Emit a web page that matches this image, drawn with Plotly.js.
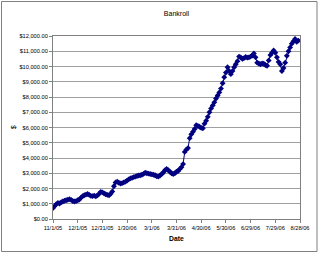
<!DOCTYPE html>
<html>
<head>
<meta charset="utf-8">
<script src="https://cdn.plot.ly/plotly-3.0.1.min.js"></script>
<style>html,body{margin:0;padding:0;background:#fff;}#chart{width:320px;height:253px;}</style>
</head>
<body>
<div id="chart"></div>
<script>
// Bankroll values, one every 2 days starting 11/1/05
const startDate = "2005-11-01";
const stepDays = 2;
const bankroll = [
  720, 850, 980, 1050, 1020, 1100, 1150, 1200, 1230, 1260,
  1300, 1250, 1180, 1150, 1170, 1230, 1280, 1400, 1500, 1560,
  1600, 1640, 1580, 1520, 1500, 1530, 1480, 1550, 1650, 1780,
  1750, 1680, 1620, 1580, 1560, 1650, 1800, 2150, 2400, 2440,
  2380, 2330, 2350, 2400, 2450, 2520, 2600, 2660, 2700, 2750,
  2780, 2820, 2850, 2870, 2900, 2960, 3030, 3000, 2980, 2950,
  2930, 2900, 2870, 2800, 2780, 2850, 2950, 3050, 3200, 3280,
  3200, 3100, 3000, 2950, 3000, 3100, 3150, 3280, 3400, 3600,
  4400, 4550, 4650, 5300, 5550, 5720, 5900, 6150, 6100, 6050,
  5980, 5950, 6250, 6450, 6700, 7000, 7250, 7450, 7650, 7900,
  8100, 8300, 8550, 8900, 9300, 9600, 9950, 9700, 9500, 9700,
  9950, 10150, 10350, 10650, 10600, 10500, 10550, 10620, 10580, 10600,
  10650, 10720, 10850, 10600, 10250, 10200, 10150, 10200, 10180, 10100,
  10050, 10400, 10750, 10900, 11050, 10900, 10600, 10300, 10150, 9700,
  9900, 10250, 10700, 11000, 11250, 11500, 11650, 11800, 11620, 11700
];
const tickDates = ["2005-11-01","2005-12-01","2005-12-31","2006-01-30","2006-03-01","2006-03-31","2006-04-30","2006-05-30","2006-06-29","2006-07-29","2006-08-28"];
const tickLabels = ["11/1/05","12/1/05","12/31/05","1/30/06","3/1/06","3/31/06","4/30/06","5/30/06","6/29/06","7/29/06","8/28/06"];

function addDays(s, n) {
  const d = new Date(s + "T00:00:00Z");
  d.setUTCDate(d.getUTCDate() + n);
  return d.toISOString().slice(0, 10);
}
const dates = bankroll.map((v, i) => addDays(startDate, i * stepDays));

const font = "Arial, 'Liberation Sans', sans-serif";
const L = 53, R = 20, T = 36, B = 34, W = 320, H = 253;
const pw = W - L - R, ph = H - T - B;

const trace = {
  x: dates, y: bankroll, type: "scatter", mode: "lines+markers",
  line: {color: "#000080", width: 1},
  marker: {symbol: "diamond", size: 4.5, color: "#000080"},
  hoverinfo: "skip"
};

const layout = {
  width: W, height: H,
  margin: {l: L, r: R, t: T, b: B, pad: 0},
  paper_bgcolor: "#fff", plot_bgcolor: "#fff",
  showlegend: false,
  font: {family: font, size: 6, color: "#000"},
  title: {text: "Bankroll", font: {family: font, size: 7, color: "#000"}, x: 0.5, xref: "paper", xanchor: "center", y: 1 - 14 / H, yref: "container", yanchor: "middle"},
  xaxis: {
    type: "date", range: [startDate, "2006-08-28"],
    tickvals: tickDates, ticktext: tickLabels,
    ticks: "outside", ticklen: 3, tickcolor: "#808080",
    showgrid: false, zeroline: false,
    showline: true, linecolor: "#808080", linewidth: 1, mirror: true,
    tickfont: {family: font, size: 5.7, color: "#000"}
  },
  yaxis: {
    range: [0, 12000], dtick: 1000, tick0: 0,
    tickformat: "$,.2f",
    ticks: "outside", ticklen: 3, tickcolor: "#808080",
    showgrid: true, gridcolor: "#a0a0a0", gridwidth: 1,
    zeroline: false,
    showline: true, linecolor: "#808080", linewidth: 1, mirror: true,
    tickfont: {family: font, size: 5.7, color: "#000"}
  },
  annotations: [
    {text: "<b>Date</b>", xref: "paper", yref: "paper", x: 0.5, y: -(238.3 - (H - B)) / ph,
     xanchor: "center", yanchor: "middle", showarrow: false, font: {family: font, size: 6.8, color: "#000"}},
    {text: "$", xref: "paper", yref: "paper", x: (13.5 - L) / pw, y: (H - B - 127.7) / ph, textangle: -90,
     xanchor: "center", yanchor: "middle", showarrow: false, font: {family: font, size: 7, color: "#000"}}
  ],
  shapes: [{
    type: "rect", xref: "paper", yref: "paper",
    x0: (1.5 - L) / pw, x1: (317 - L) / pw,
    y0: -(251.5 - (H - B)) / ph, y1: 1 + (T - 1.5) / ph,
    line: {color: "#808080", width: 1}, fillcolor: "rgba(0,0,0,0)", layer: "below"
  }]
};

Plotly.newPlot("chart", [trace], layout, {staticPlot: true, displayModeBar: false});
</script>
</body>
</html>
